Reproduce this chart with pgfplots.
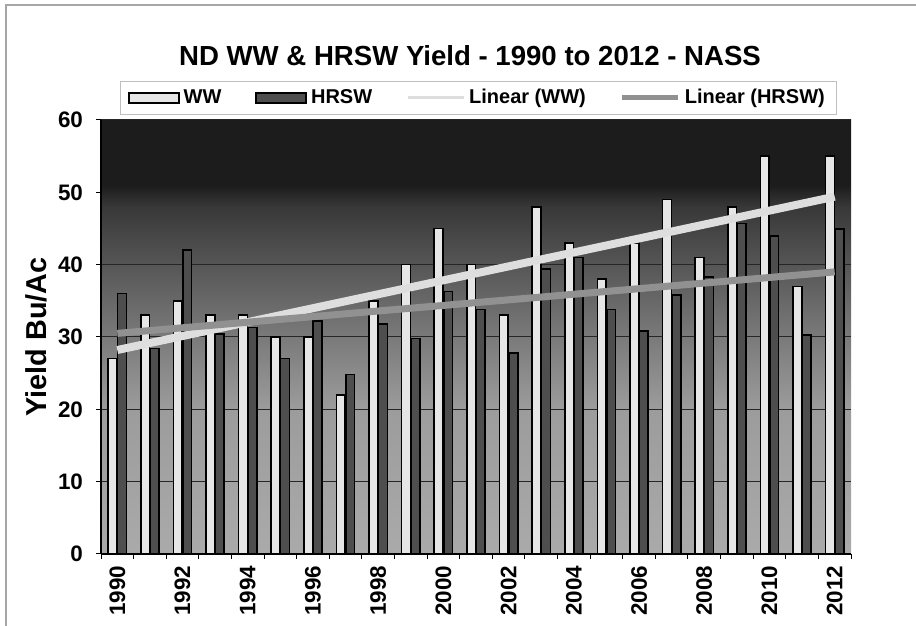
\documentclass[border=0pt]{standalone}
\usepackage{fontspec}
\setmainfont{Liberation Sans}
\usepackage{pgfplots}
\usepackage{pgfplotstable}
\pgfplotsset{compat=1.18}
\definecolor{bgA}{HTML}{AAAAAA}
\definecolor{bgB}{HTML}{9C9C9C}
\definecolor{bgC}{HTML}{7A7A7A}
\definecolor{bgD}{HTML}{565656}
\definecolor{bgE}{HTML}{383838}
\definecolor{bgF}{HTML}{1C1C1C}
\definecolor{wwfill}{HTML}{E6E6E6}
\definecolor{hrswfill}{HTML}{4E4E4E}
\definecolor{wwline}{HTML}{DEDEDE}
\definecolor{hrswline}{HTML}{919191}
\pgfdeclareverticalshading{plotbg}{100bp}{color(0bp)=(bgA); color(25bp)=(bgA); color(41.7bp)=(bgB); color(50bp)=(bgC); color(58.3bp)=(bgD); color(65bp)=(bgE); color(67.5bp)=(bgF); color(75bp)=(bgF); color(100bp)=(bgF)}
\pgfplotstableread{
x ww hrsw
0 27 36
1 33 28.4
2 35 42
3 33 30.4
4 33 31.3
5 30 27
6 30 32.2
7 22 24.8
8 35 31.8
9 40 29.8
10 45 36.3
11 40 33.8
12 33 27.8
13 48 39.4
14 43 41
15 38 33.8
16 43 30.8
17 49 35.8
18 41 38.3
19 48 45.7
20 55 44
21 37 30.3
22 55 44.9
}\yielddata
\begin{document}
\begin{tikzpicture}
\useasboundingbox (0,0) rectangle (458pt,313pt);
\draw[gray!70, line width=0.6pt] (3pt,0) -- (3pt,310.5pt) -- (458pt,310.5pt);
\node[anchor=base, font=\bfseries\fontsize{13.8}{16}\selectfont] at (235pt,280pt) {ND WW \& HRSW Yield - 1990 to 2012 - NASS};
\begin{axis}[
  at={(50.5pt,36pt)}, anchor=south west,
  scale only axis, width=375pt, height=217pt,
  xmin=-0.5, xmax=22.5, ymin=0, ymax=60,
  axis x line*=bottom, axis y line*=left,
  axis line style={black, line width=0.8pt},
  axis background/.style={shading=plotbg},
  ytick={0,10,...,60},
  xtick={0,2,...,22},
  xticklabels={1990,1992,1994,1996,1998,2000,2002,2004,2006,2008,2010,2012},
  minor xtick={-0.5,0.5,...,22.5},
  major x tick style={draw=none},
  tick align=outside,
  major tick length=2.5pt, minor tick length=2.5pt,
  tick style={black, line width=0.5pt},
  ymajorgrids, major grid style={black!85, line width=0.5pt},
  /pgf/number format/assume math mode=true,
  ticklabel style={font=\bfseries\fontsize{11.2}{13}\selectfont},
  yticklabel style={xshift=-3pt},
  xticklabel style={rotate=90, anchor=east},
  ylabel={Yield Bu/Ac},
  ylabel style={at={(axis description cs:-0.0733,0.5)}, anchor=base, rotate=0, font=\bfseries\fontsize{14.4}{16}\selectfont},
  legend columns=4,
  legend cell align=left,
  legend style={at={(axis description cs:0.5033,1.0507)}, anchor=center, draw=gray!50, fill=white,
    font=\bfseries\fontsize{10}{12}\selectfont, inner xsep=4pt, inner ysep=2pt,
    /tikz/every even column/.append style={column sep=15pt}},
]
\addplot[ybar, bar width=0.27, bar shift=-0.145, fill=wwfill, draw=black, line width=0.8pt,
  legend image code/.code={\draw[fill=wwfill, draw=black, line width=0.8pt] (0pt,-2.5pt) rectangle (25pt,2.5pt);}]
  table[x=x, y=ww]{\yielddata};
\addlegendentry{WW}
\addplot[ybar, bar width=0.27, bar shift=0.145, fill=hrswfill, draw=black, line width=0.8pt,
  legend image code/.code={\draw[fill=hrswfill, draw=black, line width=0.8pt] (0pt,-2.5pt) rectangle (25pt,2.5pt);}]
  table[x=x, y=hrsw]{\yielddata};
\addlegendentry{HRSW}
\addplot[no marks, color=wwline, line width=4pt,
  legend image code/.code={\draw[wwline, line width=1.5pt] (0pt,0pt) -- (28pt,0pt);}]
  coordinates {(0,28.2) (22,49.4)};
\addlegendentry{Linear (WW)}
\addplot[no marks, color=hrswline, line width=3.5pt,
  legend image code/.code={\draw[hrswline, line width=2.5pt] (0pt,0pt) -- (28pt,0pt);}]
  coordinates {(0,30.5) (22,39)};
\addlegendentry{Linear (HRSW)}
\end{axis}
\end{tikzpicture}
\end{document}
